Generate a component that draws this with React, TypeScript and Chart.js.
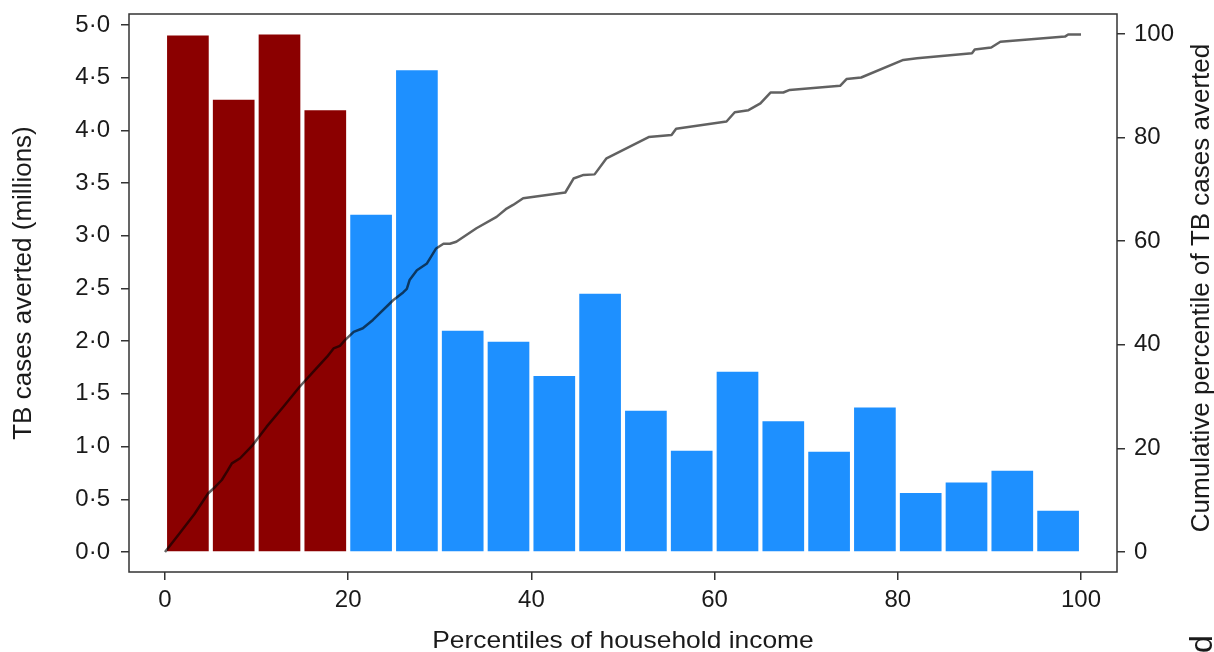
import React, { useEffect, useRef } from 'react';
import { Chart, registerables } from 'chart.js';

Chart.register(...registerables);

// ---- data ----
const BIN_CENTERS = [2.5, 7.5, 12.5, 17.5, 22.5, 27.5, 32.5, 37.5, 42.5, 47.5, 52.5, 57.5, 62.5, 67.5, 72.5, 77.5, 82.5, 87.5, 92.5, 97.5];
const CASES_AVERTED = [4.9, 4.29, 4.91, 4.19, 3.2, 4.57, 2.1, 1.995, 1.67, 2.45, 1.34, 0.96, 1.71, 1.24, 0.95, 1.37, 0.56, 0.66, 0.77, 0.39];
const POOREST_BIN_COUNT = 4;

const CUM_X = [0, 1.6, 3.2, 4.7, 5.5, 6.2, 6.8, 7.3, 8.2, 9.6, 11.1, 12.9, 14.7, 16.3, 17.7, 18.4, 19.1, 19.65, 20.6, 21.6, 22.7, 24.9, 26.0, 26.4, 26.7, 27.5, 28.6, 29.6, 30.4, 31.1, 31.8, 34.0, 36.2, 37.3, 38.0, 39.1, 43.7, 44.6, 45.7, 46.9, 48.2, 52.8, 55.3, 55.8, 61.3, 62.2, 63.7, 65.0, 66.1, 67.5, 68.2, 73.7, 74.4, 76.0, 80.6, 82.1, 88.1, 88.4, 90.2, 91.2, 98.25, 98.6, 100];
const CUM_Y = [0, 3.6, 7.3, 11.3, 12.6, 13.9, 15.6, 17.1, 18.1, 20.7, 24.2, 28.0, 31.9, 35.0, 37.7, 39.3, 39.8, 40.9, 42.5, 43.2, 44.8, 48.6, 50.1, 50.8, 52.5, 54.4, 55.7, 58.6, 59.5, 59.5, 59.9, 62.5, 64.7, 66.3, 67.0, 68.3, 69.4, 72.1, 72.8, 72.9, 76.0, 80.1, 80.5, 81.7, 83.1, 84.9, 85.3, 86.6, 88.7, 88.7, 89.2, 90.0, 91.3, 91.6, 95.0, 95.3, 96.3, 97.0, 97.4, 98.5, 99.5, 99.9, 99.9];

const X_TICKS = [0, 20, 40, 60, 80, 100];
const LEFT_TICKS = [0, 0.5, 1, 1.5, 2, 2.5, 3, 3.5, 4, 4.5, 5];
const RIGHT_TICKS = [0, 20, 40, 60, 80, 100];

const X_TITLE = 'Percentiles of household income';
const LEFT_TITLE = 'TB cases averted (millions)';
const RIGHT_TITLE = 'Cumulative percentile of TB cases averted';
const PANEL_LABEL = 'd';

const FONT_FAMILY = '"Liberation Sans", Arial, Helvetica, sans-serif';
const AXIS_COLOR = '#333333';
const TEXT_COLOR = '#1a1a1a';

const framePlugin = {
  id: 'frameAndTitles',
  afterDraw(chart: any) {
    const { ctx, chartArea } = chart;
    ctx.save();
    ctx.strokeStyle = AXIS_COLOR;
    ctx.lineWidth = 1.5;
    ctx.strokeRect(chartArea.left, chartArea.top, chartArea.right - chartArea.left, chartArea.bottom - chartArea.top);

    ctx.fillStyle = TEXT_COLOR;
    ctx.textAlign = 'center';
    ctx.textBaseline = 'middle';
    const cx = (chartArea.left + chartArea.right) / 2;

    ctx.save();
    ctx.font = `24px ${FONT_FAMILY}`;
    ctx.translate(cx, 641);
    ctx.scale(1.1, 1);
    ctx.fillText(X_TITLE, 0, 0);
    ctx.restore();

    ctx.font = `26px ${FONT_FAMILY}`;
    ctx.save();
    ctx.translate(24, 283);
    ctx.rotate(-Math.PI / 2);
    ctx.fillText(LEFT_TITLE, 0, 0);
    ctx.restore();

    ctx.save();
    ctx.translate(1202, 288);
    ctx.rotate(-Math.PI / 2);
    ctx.fillText(RIGHT_TITLE, 0, 0);
    ctx.restore();

    ctx.save();
    ctx.font = `32px ${FONT_FAMILY}`;
    ctx.translate(1212, 653);
    ctx.rotate(-Math.PI / 2);
    ctx.textAlign = 'left';
    ctx.textBaseline = 'alphabetic';
    ctx.fillText(PANEL_LABEL, 0, 0);
    ctx.restore();

    ctx.restore();
  },
};

function zeroPad(s: any) {
  s.paddingTop = 0;
  s.paddingBottom = 0;
  s.paddingLeft = 0;
  s.paddingRight = 0;
}

export default function App() {
  const ref = useRef<HTMLCanvasElement>(null);

  useEffect(() => {
    const canvas = ref.current;
    if (!canvas) return;
    const tickFont = { family: FONT_FAMILY, size: 24 };
    const gridCfg = { display: true, drawOnChartArea: false, drawTicks: true, tickLength: 8, color: AXIS_COLOR, lineWidth: 1.5, offset: false };
    const chart = new Chart(canvas, {
      type: 'bar',
      data: {
        datasets: [
          {
            type: 'line',
            data: CUM_X.map((x, i) => ({ x, y: CUM_Y[i] })),
            yAxisID: 'y2',
            xAxisID: 'x',
            borderColor: 'rgba(0,0,0,0.62)',
            borderWidth: 2.5,
            pointRadius: 0,
            tension: 0,
            borderJoinStyle: 'round',
            fill: false,
            order: 1,
          } as any,
          {
            type: 'bar',
            data: BIN_CENTERS.map((x, i) => ({ x, y: CASES_AVERTED[i] })),
            yAxisID: 'y',
            xAxisID: 'x',
            backgroundColor: CASES_AVERTED.map((_, i) => (i < POOREST_BIN_COUNT ? '#8B0000' : '#1E90FF')),
            borderWidth: 0,
            categoryPercentage: 1,
            barPercentage: 0.91,
            order: 2,
          } as any,
        ],
      },
      options: {
        animation: false,
        responsive: true,
        maintainAspectRatio: false,
        layout: { padding: { top: 14, left: 0, right: 0, bottom: 0 } },
        plugins: { legend: { display: false }, tooltip: { enabled: false }, title: { display: false } },
        scales: {
          x: {
            type: 'linear',
            position: 'bottom',
            offset: false,
            min: -3.93,
            max: 103.93,
            afterBuildTicks: (s: any) => { s.ticks = X_TICKS.map((v) => ({ value: v })); },
            afterFit: (s: any) => { s.height = 80; zeroPad(s); },
            ticks: { font: tickFont, color: TEXT_COLOR, padding: 6, maxRotation: 0, autoSkip: false, callback: (v: any) => String(v) },
            grid: gridCfg,
            border: { display: false },
          },
          y: {
            type: 'linear',
            position: 'left',
            min: -0.19,
            max: 5.104,
            afterBuildTicks: (s: any) => { s.ticks = LEFT_TICKS.map((v) => ({ value: v })); },
            afterFit: (s: any) => { s.width = 129; zeroPad(s); },
            ticks: { font: tickFont, color: TEXT_COLOR, padding: 11, autoSkip: false, callback: (v: any) => Number(v).toFixed(1).replace('.', '\u00B7') },
            grid: gridCfg,
            border: { display: false },
          },
          y2: {
            type: 'linear',
            position: 'right',
            min: -3.861,
            max: 103.86,
            afterBuildTicks: (s: any) => { s.ticks = RIGHT_TICKS.map((v) => ({ value: v })); },
            afterFit: (s: any) => { s.width = 97; zeroPad(s); },
            ticks: { font: tickFont, color: TEXT_COLOR, padding: 9, autoSkip: false, callback: (v: any) => String(v) },
            grid: gridCfg,
            border: { display: false },
          },
        },
      } as any,
      plugins: [framePlugin],
    });
    return () => chart.destroy();
  }, []);

  return (
    <div style={{ position: 'fixed', left: 0, top: 0, width: 1214, height: 652, background: '#ffffff' }}>
      <canvas ref={ref} />
    </div>
  );
}
